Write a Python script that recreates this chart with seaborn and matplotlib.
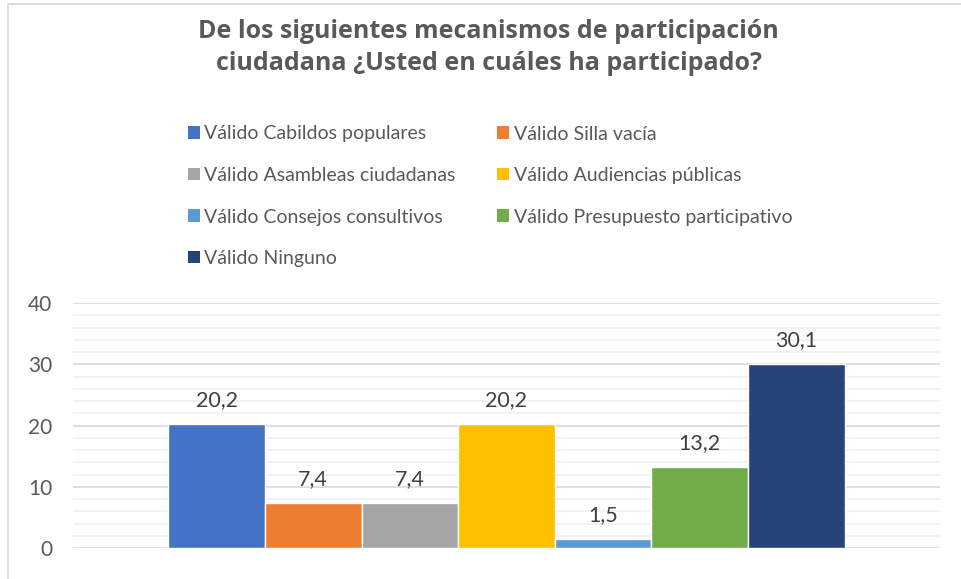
import matplotlib
matplotlib.use("Agg")
import matplotlib.pyplot as plt
import seaborn as sns
import pandas as pd
from matplotlib.patches import Rectangle, Patch
from matplotlib.ticker import MultipleLocator

# Datos
categorias = ['Válido Cabildos populares', 'Válido Silla vacía',
              'Válido Asambleas ciudadanas', 'Válido Audiencias públicas',
              'Válido Consejos consultivos', 'Válido Presupuesto participativo',
              'Válido Ninguno']
valores = [20.2, 7.4, 7.4, 20.2, 1.5, 13.2, 30.1]
colores = ['#4472C4', '#ED7D31', '#A5A5A5', '#FFC000', '#5B9BD5', '#70AD47', '#264478']

df = pd.DataFrame({'grupo': [''] * len(categorias), 'mecanismo': categorias, 'valor': valores})

sns.set_style('white')
plt.rcParams['font.family'] = ['Lato', 'DejaVu Sans']

fig = plt.figure(figsize=(9.62, 5.79), dpi=100)
ax = fig.add_axes([73 / 962, 1 - 548 / 579, 867 / 962, 245 / 579])

sns.barplot(data=df, x='grupo', y='valor', hue='mecanismo', hue_order=categorias,
            palette=colores, width=0.78, gap=0, saturation=1, legend=False, ax=ax)

# Etiquetas de datos con coma decimal
for cont in ax.containers:
    ax.bar_label(cont, labels=[f'{v:.1f}'.replace('.', ',') for v in cont.datavalues],
                 padding=10, fontsize=15.5, color='#404040')

# Ejes y rejilla
ax.set_ylim(0, 40)
ax.set_xlim(-0.5, 0.5)
ax.yaxis.set_major_locator(MultipleLocator(10))
ax.yaxis.set_minor_locator(MultipleLocator(2))
ax.grid(axis='y', which='major', color='#d9d9d9', linewidth=1.2)
ax.grid(axis='y', which='minor', color='#f0f0f0', linewidth=1.2)
ax.set_axisbelow(True)
for s in ax.spines.values():
    s.set_visible(False)
ax.set_xlabel('')
ax.set_ylabel('')
ax.set_xticks([])
ax.tick_params(axis='y', which='both', length=0, labelsize=15, labelcolor='#595959', pad=15)

# Título
fig.text(0.508, 1 - 47.5 / 579, 'De los siguientes mecanismos de participación\nciudadana ¿Usted en cuáles ha participado?',
         ha='center', va='center', fontsize=18, fontweight='bold', color='#595959',
         family='Open Sans', linespacing=1.4)

# Leyenda en dos columnas (orden por filas)
handles = [Patch(facecolor=c, edgecolor='none') for c in colores]
orden = [0, 2, 4, 6, 1, 3, 5]
leg = fig.legend([handles[i] for i in orden], [categorias[i] for i in orden],
                 ncol=2, loc='upper left', bbox_to_anchor=(170 / 962, 1 - 108 / 579),
                 frameon=False, fontsize=14, labelcolor='#595959',
                 handlelength=0.62, handleheight=0.62, handletextpad=0.25,
                 labelspacing=1.26, columnspacing=2.1)

# Marco exterior
fig.patches.append(Rectangle((8 / 962, -0.01), 1.0, 1 - 4 / 579 + 0.01, transform=fig.transFigure,
                             fill=False, edgecolor='#d9d9d9', linewidth=1.2))

fig.savefig('out.png', dpi=100)
